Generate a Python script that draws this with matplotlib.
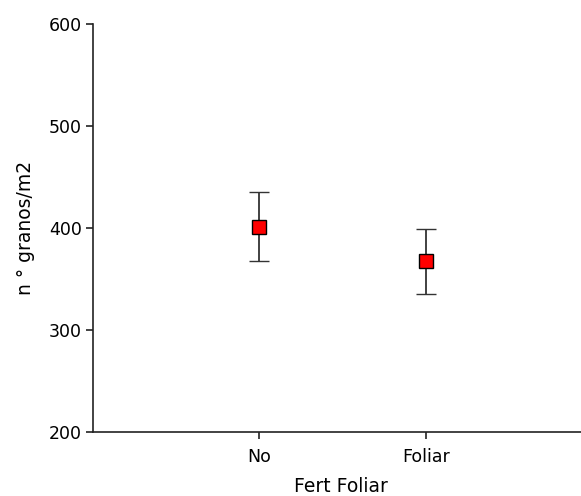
import matplotlib
matplotlib.use("Agg")
import matplotlib.pyplot as plt

categories = ["No", "Foliar"]
means = [401, 367]
errors = [34, 32]
yticks = [200, 300, 400, 500, 600]

fig = plt.figure(figsize=(5.81, 4.96), dpi=100)
W, H = 581, 496
left, right_px = 92.7, 92.7 + 3 * 166.5
bottom_px, top_px = 431.7, 23.5
ax = fig.add_axes([left / W, 1 - bottom_px / H, (right_px - left) / W, (bottom_px - top_px) / H])

x = [1, 2]
ax.errorbar(x, means, yerr=errors, fmt='s', color='#333333', ecolor='#333333',
            elinewidth=1.3, capsize=7, capthick=1.3,
            markerfacecolor='#ff0000', markeredgecolor='black', markeredgewidth=1.0,
            markersize=9.5, zorder=3)

ax.set_xlim(0, 3)
ax.set_ylim(200, 600)
ax.set_xticks(x)
ax.set_xticklabels(categories)
ax.set_yticks(yticks)
for s in ['top', 'right']:
    ax.spines[s].set_visible(False)
for s in ['left', 'bottom']:
    ax.spines[s].set_linewidth(1.2)
    ax.spines[s].set_color('#222222')
ax.tick_params(axis='both', length=5, width=1.2, color='#222222', labelsize=12.5)
ax.tick_params(axis='x', pad=7)
ax.tick_params(axis='y', pad=3)
ax.set_xlabel("Fert Foliar", fontsize=13.5)
ax.set_ylabel("n ° granos/m2", fontsize=13.5)
ax.xaxis.set_label_coords((341 - left) / (right_px - left), -(477 - bottom_px) / (bottom_px - top_px), transform=ax.transAxes)
ax.yaxis.set_label_coords(-(left - 35) / (right_px - left), 0.5, transform=ax.transAxes)

fig.savefig("out.png", dpi=100)
